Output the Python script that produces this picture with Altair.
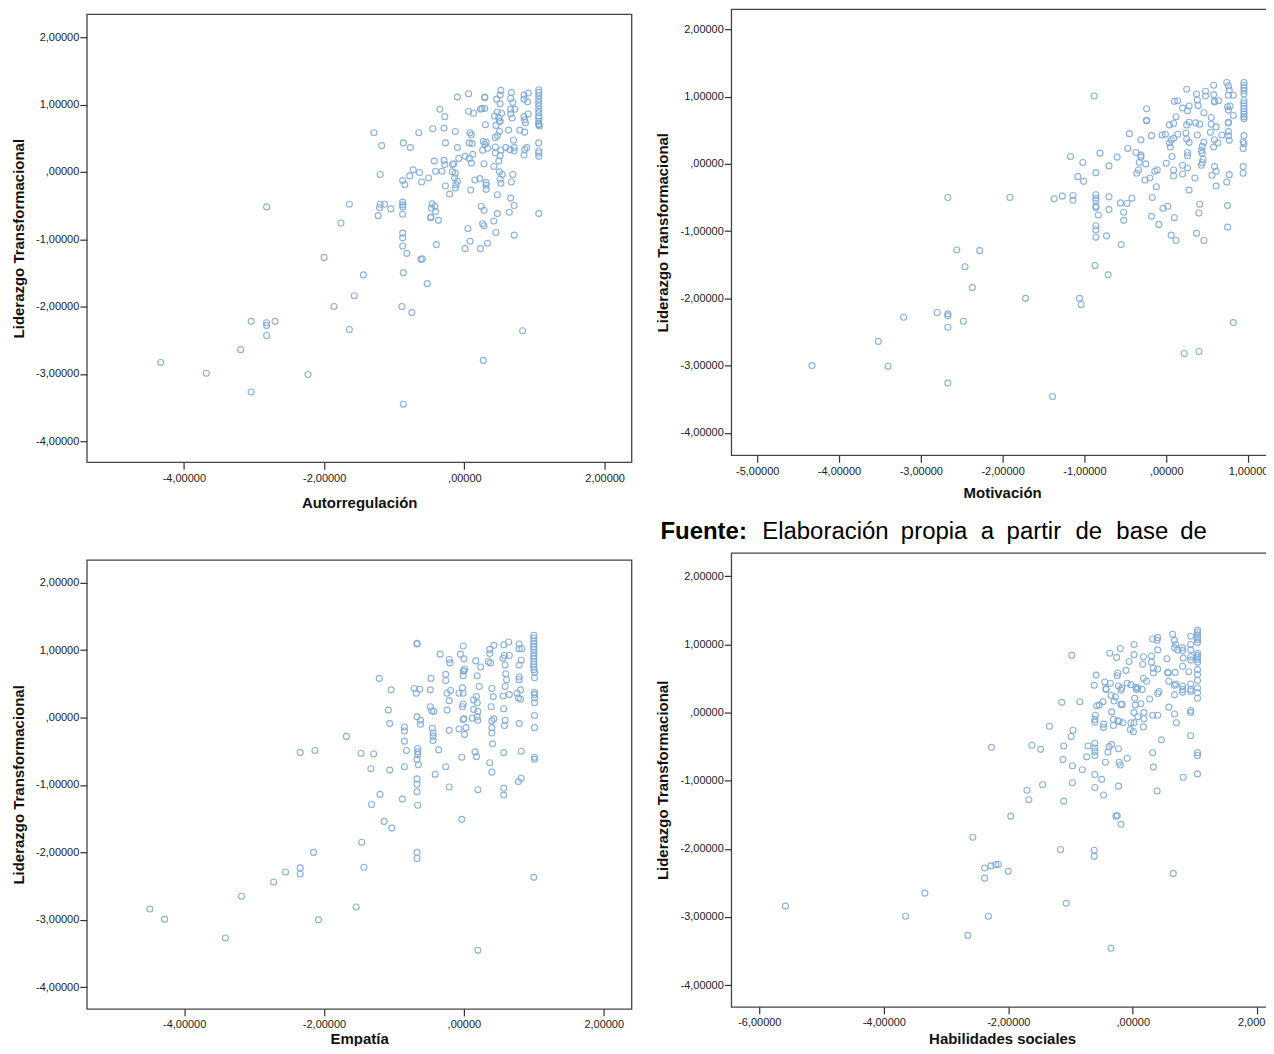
import altair as alt
import pandas as pd

autorregulacion = [
(-1.29,.58),(-1.18,.39),(-.87,.43),(-.77,.36),(-.65,.58),(-.45,.64),(-.29,.65),(-.13,.60),(-.27,.43),(.08,.58),
(.10,.55),(.07,.43),(.11,.42),(-.10,.36),(.30,.70),(.45,.69),(.50,.75),(.47,.54),(.44,.51),(.50,.60),
(.63,.62),(.79,.62),(.86,.59),(1.06,.71),(1.07,.68),(.87,.73),(.27,.45),(.31,.44),(.29,.41),(.44,.37),
(.26,.32),(.33,.35),(.59,.36),(.70,.47),(.71,.36),(.65,.33),(.71,.31),(.89,.36),(.86,.33),(.85,.25),
(1.06,.43),(1.06,.31),(1.06,.28),(1.06,.23),(.44,.28),(.52,.32),(.51,.24),(-.43,.16),(-.29,.17),(-.28,.11),
(-.17,.11),(-.15,.12),(-.08,.20),(.01,.23),(.07,.20),(.12,.26),(.10,.13),(.28,.12),(.49,.16),(.42,.08),
(-.73,.03),(-.64,-.01),(-.41,.01),(-.32,.01),(-.17,.00),(-.13,-.02),(-.78,-.06),(-1.20,-.04),(-.88,-.13),(-.85,-.19),
(-.61,-.15),(-.51,-.09),(-.14,-.09),(-.10,-.14),(-.27,-.21),(-.13,-.24),(-.12,-.19),(.15,-.12),(.22,-.10),(.31,-.16),
(.31,-.20),(.31,-.26),(.09,-.27),(-.21,-.33),(.52,-.17),(.51,-.11),(.50,.00),(.54,-.04),(.69,-.04),(.67,-.15),
(.47,-.34),(-1.64,-.48),(-1.20,-.48),(-1.21,-.53),(-1.14,-.48),(-1.05,-.55),(-1.23,-.65),(-1.76,-.76),(-.88,-.45),(-.88,-.49),
(-.88,-.52),(-.88,-.63),(-.46,-.475),(-.47,-.54),(-.42,-.51),(-.41,-.59),(-.48,-.67),(-.48,-.68),(-.37,-.72),(.24,-.51),
(.28,-.57),(.66,-.39),(.71,-.50),(.64,-.60),(.47,-.62),(.42,-.73),(.26,-.77),(.28,-.80),(.05,-.84),(.45,-.90),
(.71,-.94),(-.88,-.91),(-.88,-.98),(-.88,-1.10),(-.82,-1.21),(-.40,-1.08),(.08,-1.03),(.33,-1.06),(.23,-1.14),(.01,-1.14),
(-.60,-1.29),(1.06,-.62),(-.10,1.11),(.06,1.16),(.29,1.11),(.29,1.10),(-.35,.93),(-.28,.82),(.06,.90),(.13,.87),
(.23,.93),(.25,.94),(.29,.94),(.52,1.21),(.51,1.14),(.46,1.08),(.51,1.01),(.67,1.18),(.66,1.09),(.69,1.03),
(.72,.93),(.66,.93),(.66,.86),(.68,.80),(.85,1.14),(.91,1.17),(.85,1.08),(.90,1.04),(.47,.89),(.53,.87),
(.43,.83),(.49,.80),(.51,.75),(.85,.82),(.91,.86),(.86,.77),(1.06,1.22),(1.06,1.18),(1.06,1.13),(1.06,1.08),
(1.06,1.03),(1.06,.98),(1.06,.93),(1.06,.88),(1.06,.83),(1.06,.80),(1.06,.75),(1.06,.70),(-4.33,-2.83),(-3.68,-2.99),
(-3.04,-3.27),(-3.19,-2.64),(-3.04,-2.22),(-2.82,-2.24),(-2.82,-2.28),(-2.82,-2.43),(-2.70,-2.22),(-2.82,-.52),(-2.23,-3.01),(-2.00,-1.27),
(-1.86,-2.00),(-1.64,-2.34),(-1.57,-1.84),(-1.44,-1.53),(-.89,-2.00),(-.75,-2.09),(-.87,-1.50),(-.87,-3.45),(-.62,-1.30),(-.53,-1.66),
(.27,-2.80),(.83,-2.36),
]

motivacion = [
(-1.17,.11),(-1.02,.02),(-.81,.16),(-.60,.10),(-.70,-.03),(-.86,-.13),(-1.08,-.19),(-1.01,-.26),(-.47,.23),(-.45,.45),
(-.31,.36),(-.18,.42),(-.24,.64),(-.05,.43),(-.01,.44),(.14,.44),(.09,.38),(.06,.36),(.04,.31),(.05,.25),
(.04,.58),(.09,.60),(.24,.46),(.25,.58),(.28,.62),(.36,.61),(.41,.59),(.55,.59),(.61,.55),(.76,.61),
(.54,.47),(.68,.43),(.76,.48),(.76,.42),(.77,.35),(.59,.36),(.63,.31),(.58,.25),(.38,.43),(.25,.37),
(.28,.32),(.46,.32),(.44,.26),(.43,.20),(.44,.16),(.95,.42),(.94,.33),(.95,.30),(.94,.23),(-.37,.17),
(-.31,.13),(-.31,.10),(.07,.11),(.26,.17),(.26,.12),(.00,.01),(-.25,.00),(-.33,.02),(-.34,-.09),(-.36,-.14),
(-.14,-.11),(-.11,-.09),(-.20,-.21),(-.26,-.24),(.09,-.09),(.09,-.18),(.20,-.02),(.26,-.06),(.20,-.15),(.35,-.21),
(.45,.07),(.44,.02),(.43,-.02),(.59,-.04),(.61,-.11),(.56,-.17),(.77,-.16),(.74,-.27),(.61,-.33),(.94,-.04),
(.94,-.14),(-.12,-.34),(.28,-.39),(-1.37,-.52),(-1.27,-.48),(-1.14,-.47),(-1.14,-.54),(-.86,-.46),(-.86,-.51),(-.86,-.55),
(-.86,-.63),(-.86,-.65),(-.70,-.49),(-.56,-.58),(-.48,-.59),(-.42,-.51),(-.17,-.50),(-.70,-.68),(-.83,-.76),(-.52,-.72),
(-.52,-.84),(-.18,-.78),(-.04,-.66),(.02,-.63),(.10,-.80),(-.09,-.90),(.41,-.60),(.40,-.73),(.75,-.62),(.75,-.94),
(-.86,-.92),(-.86,-.98),(-.86,-1.09),(-.73,-1.07),(-.55,-1.20),(.06,-1.06),(.12,-1.14),(.37,-1.03),(.46,-1.14),(-.24,.82),
(-.24,.65),(.25,1.11),(.37,1.04),(.48,1.08),(.48,1.01),(.58,1.17),(.58,1.03),(.59,.93),(.59,.92),(.64,.94),
(.38,.95),(.39,.87),(.10,.93),(.14,.94),(.28,.86),(.20,.83),(.26,.79),(.12,.70),(.46,.76),(.55,.69),
(.74,1.21),(.76,1.16),(.77,1.10),(.76,1.02),(.82,1.02),(.75,.85),(.78,.86),(.76,.80),(.82,.72),(.76,.62),
(.95,1.21),(.95,1.17),(.95,1.13),(.95,1.09),(.95,1.04),(.95,.94),(.95,.90),(.95,.86),(.95,.82),(.95,.78),
(.95,.74),(.95,.70),(.95,.67),(-4.33,-3.00),(-3.52,-2.64),(-3.40,-3.01),(-3.21,-2.28),(-2.80,-2.21),(-2.67,-2.23),(-2.67,-2.26),
(-2.67,-2.43),(-2.67,-3.26),(-2.67,-.50),(-2.56,-1.28),(-2.28,-1.29),(-2.46,-1.53),(-2.37,-1.84),(-2.48,-2.34),(-1.91,-.50),(-1.72,-2.00),
(-1.39,-3.46),(-1.06,-2.00),(-1.04,-2.09),(-.88,1.01),(-.87,-1.51),(-.71,-1.65),(.22,-2.82),(.40,-2.79),(.82,-2.36),
]

empatia = [
(-1.21,.58),(-1.04,.41),(-.71,.43),(-.63,.42),(-.68,.36),(-.48,.41),(-.47,.58),(-.26,.64),(-.26,.55),(-.01,.62),
(.00,.69),(.19,.62),(.22,.46),(-.19,.40),(-.24,.36),(-.02,.44),(-.07,.36),(-.01,.36),(.18,.31),(.40,.43),
(.42,.31),(-.21,.25),(.14,.26),(.19,.22),(-.01,.20),(-.02,.16),(-.48,.16),(-.46,.10),(-.43,.09),(-.24,.11),
(-1.08,.11),(-.67,.01),(-.62,-.04),(-.62,-.10),(-1.06,-.09),(-.85,-.14),(-.85,-.20),(-.85,-.35),(-.82,-.49),(-.45,-.16),
(-.44,-.23),(-.44,-.28),(-.44,-.34),(-.36,-.48),(-.21,-.19),(-.07,-.17),(.03,-.15),(.01,-.25),(.00,-.02),(-.01,-.03),
(.12,-.01),(.14,.12),(.20,.09),(.20,-.04),(.19,.01),(.39,.16),(.57,.13),(.56,.32),(.59,.46),(.65,.34),
(.61,.56),(.60,.65),(.79,.60),(.79,.56),(.81,.41),(.76,.36),(.78,.29),(.81,.27),(1.01,.67),(1.01,.59),
(1.01,.37),(1.01,.34),(1.01,.29),(1.01,.22),(1.01,.03),(1.01,-.15),(.79,-.09),(.59,-.04),(.58,-.12),(.40,-.05),
(.43,-.02),(.40,-.15),(.40,-.23),(.41,-.39),(.57,-.52),(.82,-.50),(.16,-.51),(.18,-.58),(-.03,-.59),(.37,-.67),
(.40,-.81),(1.01,-.59),(1.01,-.62),(.82,-.90),(.78,-.95),(.57,-1.05),(.57,-1.15),(.20,-1.07),(-.21,-1.03),(-.26,-.73),
(-.41,-.84),(-.67,-.91),(-.67,-.99),(-.67,-1.10),(-.66,-.46),(-.66,-.51),(-.66,-.55),(-.67,-.62),(-.65,-.70),(-.85,-.73),
(-1.06,-.78),(-1.33,-.76),(-1.47,-.53),(-1.29,-.54),(-1.68,-.28),(-1.20,-1.14),(-.88,-1.21),(-1.32,-1.29),(-.66,-1.30),(-.67,1.10),
(-.67,1.09),(-.01,1.06),(-.34,.94),(-.21,.86),(-.20,.81),(-.05,.94),(.00,.87),(.17,.84),(.24,.75),(.01,.72),
(-.01,.69),(.37,.95),(.37,1.01),(.43,1.07),(.57,1.08),(.64,1.12),(.79,1.09),(.79,1.02),(.83,1.02),(.58,.92),
(.65,.92),(.35,.83),(.38,.81),(.56,.88),(.59,.78),(.79,.78),(.82,.85),(1.0,1.22),(1.0,1.18),(1.0,1.13),
(1.0,1.09),(1.0,1.05),(1.0,1.01),(1.0,.96),(1.0,.91),(1.0,.87),(1.0,.83),(1.0,.79),(1.0,.75),(1.0,.71),
(-4.49,-2.84),(-4.28,-2.99),(-3.41,-3.27),(-3.18,-2.65),(-2.72,-2.44),(-2.55,-2.29),(-2.34,-2.23),(-2.34,-2.32),(-2.34,-.52),(-2.13,-.49),
(-2.15,-2.00),(-2.08,-3.00),(-1.54,-2.81),(-1.46,-1.85),(-1.43,-2.22),(-1.14,-1.54),(-1.03,-1.64),(-.67,-2.00),(-.67,-2.09),(-.03,-1.51),
(.20,-3.45),(1.00,-2.37),
]

habilidades = [
(-1.14,.15),(-.85,.16),(-.58,.10),(-.54,.11),(-.48,.16),(-.34,.01),(-.60,-.04),(-.61,-.10),(-.61,-.14),(-.47,-.17),
(-.47,-.22),(-.31,-.10),(-.24,-.12),(-.22,-.13),(-.16,-.15),(-.31,-.19),(-.03,-.15),(.02,-.15),(-.04,-.25),(.01,-.28),
(.17,-.21),(.02,.00),(.18,.00),(.18,-.09),(.08,-.06),(.32,-.04),(.40,-.04),(.67,-.02),(.70,-.15),(.93,.03),
(.93,.00),(-1.34,-.20),(-.96,-.26),(-.99,-.35),(-1.62,-.48),(-1.48,-.54),(-1.11,-.49),(-.72,-.49),(-.61,-.45),(-.61,-.52),
(-.61,-.57),(-.61,-.63),(-.74,-.65),(-1.12,-.69),(-.97,-.78),(-.81,-.84),(-.61,-.91),(-.50,-.98),(-.61,-1.10),(-.47,-1.21),
(-.23,-1.08),(-1.45,-1.06),(-1.70,-1.14),(-1.67,-1.28),(-1.11,-1.30),(-.97,-1.03),(-.40,-.58),(-.38,-.50),(-.34,-.47),(-.23,-.53),
(-.44,-.73),(-.09,-.67),(-.22,-.73),(-.20,-.77),(-.25,-1.51),(.46,-.40),(.93,-.34),(.32,-.59),(.33,-.80),(1.04,-.59),
(1.04,-.63),(1.04,-.90),(.81,-.95),(.39,-1.15),(-.98,.84),(-.37,.87),(-.20,.94),(-.26,.81),(.02,1.00),(.02,.85),
(-.06,.75),(.17,.82),(.30,.83),(.30,.74),(.16,.71),(-.11,.62),(-.24,.58),(-.25,.54),(-.59,.55),(-.62,.40),
(-.45,.45),(-.36,.43),(-.43,.35),(-.23,.39),(-.18,.36),(-.09,.43),(-.03,.41),(.05,.37),(.08,.36),(.17,.50),
(.22,.46),(.15,.34),(.32,1.08),(.40,1.10),(.39,1.06),(.40,.92),(.55,.79),(.33,.65),(.33,.58),(.40,.64),
(.56,.59),(.57,.58),(.68,.59),(.58,.46),(.69,.42),(.67,.40),(.64,1.15),(.67,1.06),(.69,1.00),(.67,.95),
(.72,.92),(.80,.95),(.80,.91),(.81,.80),(.80,.68),(.93,1.12),(.93,1.00),(.93,.92),(.93,.82),(.93,.77),
(.90,.60),(.93,.42),(.80,.39),(.80,.34),(.93,.34),(1.04,1.21),(1.04,1.18),(1.04,1.14),(1.04,1.10),(1.04,1.07),
(1.04,1.03),(1.04,.87),(1.04,.84),(1.04,.81),(1.04,.78),(1.04,.74),(1.04,.63),(1.04,.56),(1.04,.47),(1.04,.36),
(1.04,.29),(1.04,.21),(-.43,.34),(-.35,.25),(-.28,.23),(-.30,.17),(-.19,.12),(-.17,.12),(.03,.21),(.13,.13),
(.04,.11),(.27,.20),(.42,.31),(.40,.28),(.58,.08),(.67,.26),(.80,.30),(.93,.31),(-.19,.33),(.06,.34),
(-5.58,-2.84),(-3.65,-2.99),(-3.34,-2.65),(-2.65,-3.27),(-2.38,-2.43),(-2.38,-2.28),(-2.32,-2.99),(-2.27,-.51),(-2.28,-2.25),(-2.20,-2.23),
(-2.16,-2.23),(-2.57,-1.83),(-2.00,-2.33),(-1.96,-1.52),(-1.16,-2.01),(-1.07,-2.80),(-.62,-2.02),(-.62,-2.11),(-.35,-3.46),(-.27,-1.52),
(-.19,-1.64),(.65,-2.36),
]

y_ticks = [-4, -3, -2, -1, 0, 1, 2]
x_ticks_a = [-4, -2, 0, 2]
x_ticks_m = [-5, -4, -3, -2, -1, 0, 1]
x_ticks_h = [-6, -4, -2, 0, 2]
y_title = "Liderazgo Transformacional"
fuente_words = ["Elaboración", "propia", "a", "partir", "de", "base", "de"]
fuente_lead = "Fuente:"

FONT = "Liberation Sans"
LABEL = "datum.value == 0 ? ',00000' : replace(replace(format(datum.value, '.5f'), '.', ','), '\u2212', '-')"


def axis(title, ticks, label_pad, title_pad):
    return alt.Axis(
        title=title, values=ticks, grid=False, domain=False, tickSize=7, tickWidth=1.2,
        tickColor="#333333", labelExpr=LABEL, labelFont=FONT, labelFontSize=11,
        labelColor="#222222", labelOverlap=False, labelFlush=False, labelBound=False,
        labelPadding=label_pad, titlePadding=title_pad,
        titleFont=FONT, titleFontSize=15, titleFontWeight="bold", titleColor="#111111",
    )


def panel(points, xtitle, xticks, xdom, ydom, w, h, xpad):
    df = pd.DataFrame(points, columns=["x", "y"])
    return alt.Chart(df).mark_point(
        shape="circle", filled=False, size=36, strokeWidth=1.1, color="#7DA9D9", opacity=0.9
    ).encode(
        x=alt.X("x:Q", scale=alt.Scale(domain=xdom, nice=False, zero=False), axis=axis(xtitle, xticks, 3, xpad)),
        y=alt.Y("y:Q", scale=alt.Scale(domain=ydom, nice=False, zero=False), axis=axis(y_title, y_ticks, 1, 9)),
    ).properties(width=w, height=h)


p1 = panel(autorregulacion, "Autorregulación", x_ticks_a, [-5.384, 2.383], [-4.311, 2.341], 546, 449, 12)
p2 = panel(motivacion, "Motivación", x_ticks_m, [-5.317, 1.305], [-4.332, 2.300], 543, 447, 9)
p3 = panel(empatia, "Empatía", x_ticks_a, [-5.392, 2.397], [-4.320, 2.337], 546, 450, 2)
p4 = panel(habilidades, "Habilidades sociales", x_ticks_h, [-6.450, 2.252], [-4.319, 2.343], 543, 455, 4)

word_x = [31, 170, 250, 276, 345, 386, 450]
anchor = pd.DataFrame({"t": [0]})
lead = alt.Chart(anchor).mark_text(font=FONT, fontSize=24, fontWeight="bold", align="left", baseline="alphabetic", color="#000000").encode(
    text=alt.value(fuente_lead), x=alt.value(-71), y=alt.value(-14))
words = [
    alt.Chart(anchor).mark_text(font=FONT, fontSize=24, align="left", baseline="alphabetic", color="#000000").encode(
        text=alt.value(w), x=alt.value(px), y=alt.value(-14))
    for w, px in zip(fuente_words, word_x)
]
p4 = alt.layer(p4, lead, *words)

spacer = alt.Chart(anchor).mark_point(opacity=0, size=1).encode(x=alt.value(100), y=alt.value(3)).properties(
    width=546, height=5, view=alt.ViewConfig(stroke=None))

left = alt.vconcat(spacer, alt.vconcat(p1, p3, spacing=98, bounds="flush"), spacing=0, bounds="flush")
right = alt.vconcat(p2, p4, spacing=98, bounds="flush")
chart = alt.hconcat(left, right, spacing=646, bounds="flush").properties(
    padding={"left": 2, "top": -1, "right": -12, "bottom": -3}, background="white",
).configure_view(stroke="#444444", strokeWidth=1.3)

chart.save("out.html", embed_options={"renderer": "svg", "actions": False})
